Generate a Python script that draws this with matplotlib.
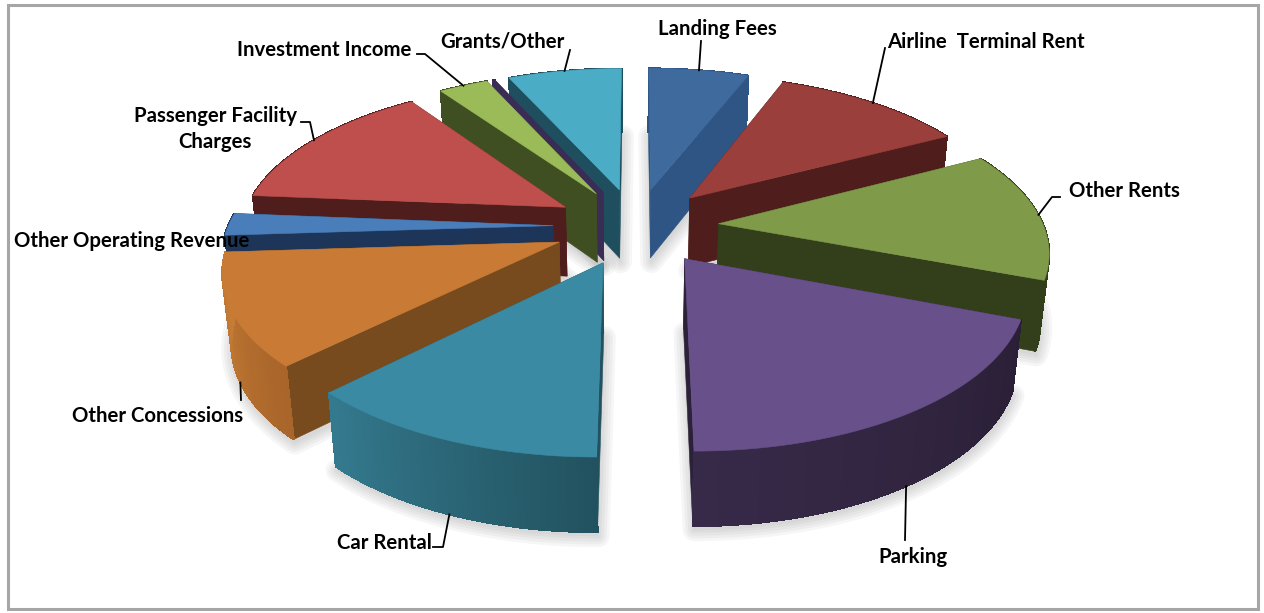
"""Exploded 3D pie of airport operating revenue, drawn from projected wedges."""

import numpy as np
import matplotlib
matplotlib.use('Agg')
import matplotlib.pyplot as plt
from matplotlib.colors import to_rgb
from matplotlib.patches import Polygon, Rectangle

LABELS = ['Landing Fees', 'Airline  Terminal Rent', 'Other Rents', 'Parking', 'Car Rental',
          'Other Concessions', 'Other Operating Revenue', 'Passenger Facility\nCharges',
          'Investment Income', '', 'Grants/Other']
SHARES = [5.9, 11.4, 13.5, 19.2, 12.5, 11.5, 2.3, 14.0, 2.9, 0.1, 6.7]

TOP_COLORS = ['#3F6A9E', '#9A3F3B', '#7F9A48', '#68508A', '#3B8AA4', '#C97B35',
              '#4A7EBB', '#BE4F4C', '#9BBB59', '#3A2D55', '#4BACC6']
WALL_COLORS = ['#2E5583', '#4F1E1C', '#333F1A', '#2C2138', '#22525F', '#784B1F',
               '#1D3558', '#4F1E1C', '#404F22', '#3A2D55', '#1F4E5F']
# rim wall colours at the start and end angle of each slice
RIM_COLORS = [('#2E5583', '#2E5583'), ('#4F1E1C', '#4F1E1C'), ('#333F1A', '#333F1A'),
              ('#2A1F36', '#372A49'), ('#22525F', '#347A8F'), ('#A8652A', '#C67C35'),
              ('#1D3558', '#1D3558'), ('#4F1E1C', '#4F1E1C'), ('#404F22', '#404F22'),
              ('#3A2D55', '#3A2D55'), ('#1F4E5F', '#1F4E5F')]

EXPLODE = 0.255
CX, CY = 636, 226
RX, RY = 325, 150.7
PERSP = 0.157
DEPTH = 69.5

# label centre, leader elbow points (from label towards the slice), rim depth of leader end
LABEL_POS = [(717, 29), (986, 42), (1124, 191), (913, 557), (384, 543),
             (158, 416), (132, 241), (215, 129), (324, 50), None, (502, 42)]
LEADERS = [[(701, 41)], [(885, 48)], [(1060, 197), (1052, 197)], [(905, 540)], [(433, 547), (443, 547)],
           [(241, 400)], [], [(301, 122), (310, 122)], [(417, 54), (425, 54)], [], [(570, 50)]]
LEADER_Z = [0, 0, 0, 1, 1, 1, 0, 0, 0, 0, 0]


def project(x, y, z):
    """Ground coordinates (unit radius, y towards the back) to image pixels."""
    x, y = np.asarray(x, float), np.asarray(y, float)
    w = 1 / (1 + PERSP * y)
    sx = CX + RX * x * w * (1 - 0.022 * z)
    sy = CY - RY * y * w + DEPTH * z * (1 - 0.065 * y)
    return np.column_stack([sx, sy])


def slice_edges():
    fracs = np.cumsum([0] + SHARES) / sum(SHARES) * 2 * np.pi
    return fracs[:-1], fracs[1:]


def rim(a0, a1, n=60):
    mid = (a0 + a1) / 2
    t = np.linspace(a0, a1, n)
    return EXPLODE * np.sin(mid) + np.sin(t), EXPLODE * np.cos(mid) + np.cos(t)


def face(ax, pts, color, zorder, smooth=True):
    ax.add_patch(Polygon(pts, closed=True, facecolor=color, edgecolor=color, linewidth=0.4 if smooth else 0.8,
                         antialiased=smooth, zorder=zorder))


def draw_shadow(ax, a0, a1):
    mid = (a0 + a1) / 2
    ox, oy = EXPLODE * np.sin(mid), EXPLODE * np.cos(mid)
    rx, ry = rim(a0, a1)
    bottom = project(np.r_[ox, rx], np.r_[oy, ry], 1) + [1, 4]
    for lw in (16, 12, 8, 4):
        ax.add_patch(Polygon(bottom, closed=True, facecolor='#d8d8d8', edgecolor='#808080', linewidth=lw,
                             alpha=0.07, joinstyle='round', zorder=1))


def draw_slice(ax, i, a0, a1, zorder):
    mid = (a0 + a1) / 2
    ox, oy = EXPLODE * np.sin(mid), EXPLODE * np.cos(mid)
    rx, ry = rim(a0, a1)
    apex_top = project([ox], [oy], 0)[0]
    apex_bot = project([ox], [oy], 1)[0]
    rim_top = project(rx, ry, 0)
    rim_bot = project(rx, ry, 1)

    face(ax, [apex_top, rim_top[0], rim_bot[0], apex_bot], WALL_COLORS[i], zorder)
    face(ax, [apex_top, rim_top[-1], rim_bot[-1], apex_bot], WALL_COLORS[i], zorder)

    # base wall under the strips keeps the outer edge smooth
    c0, c1 = np.array(to_rgb(RIM_COLORS[i][0])), np.array(to_rgb(RIM_COLORS[i][1]))
    face(ax, np.vstack([rim_top, rim_bot[::-1]]), tuple((c0 + c1) / 2), zorder)
    for k in range(len(rx) - 1):
        col = c0 + (c1 - c0) * k / (len(rx) - 2)
        face(ax, [rim_top[k], rim_top[k + 1], rim_bot[k + 1], rim_bot[k]], tuple(col), zorder, smooth=False)

    face(ax, np.vstack([apex_top, rim_top]), TOP_COLORS[i], zorder)


def draw_label(ax, i, a0, a1):
    if LABEL_POS[i] is None:
        return
    ax.text(*LABEL_POS[i], LABELS[i], ha='center', va='center', fontsize=14.7, fontweight='bold',
            family=['Lato', 'DejaVu Sans'], color='black', linespacing=1.35, zorder=60)
    if LEADERS[i]:
        mid = (a0 + a1) / 2
        rx, ry = rim(mid, mid, n=1)
        end = project(rx, ry, LEADER_Z[i])
        pts = np.vstack([LEADERS[i], end])
        ax.plot(pts[:, 0], pts[:, 1], color='black', linewidth=1.3, zorder=55)


def main():
    fig = plt.figure(figsize=(12.64, 6.13), dpi=100, facecolor='white')
    ax = fig.add_axes([0, 0, 1, 1])
    ax.set_xlim(0, 1264)
    ax.set_ylim(613, 0)
    ax.axis('off')

    ax.add_patch(Rectangle((8, 5), 1250, 604, facecolor='white', edgecolor='#A6A6A6', linewidth=2.2, zorder=0))

    starts, ends = slice_edges()
    for a0, a1 in zip(starts, ends):
        draw_shadow(ax, a0, a1)

    # back slices first so the front ones overlap them
    order = np.argsort(-np.cos((starts + ends) / 2))
    for rank, i in enumerate(order):
        draw_slice(ax, i, starts[i], ends[i], 5 + rank)

    for i in range(len(LABELS)):
        draw_label(ax, i, starts[i], ends[i])

    fig.savefig('out.png', dpi=100, facecolor='white')
    plt.close(fig)


if __name__ == '__main__':
    main()
